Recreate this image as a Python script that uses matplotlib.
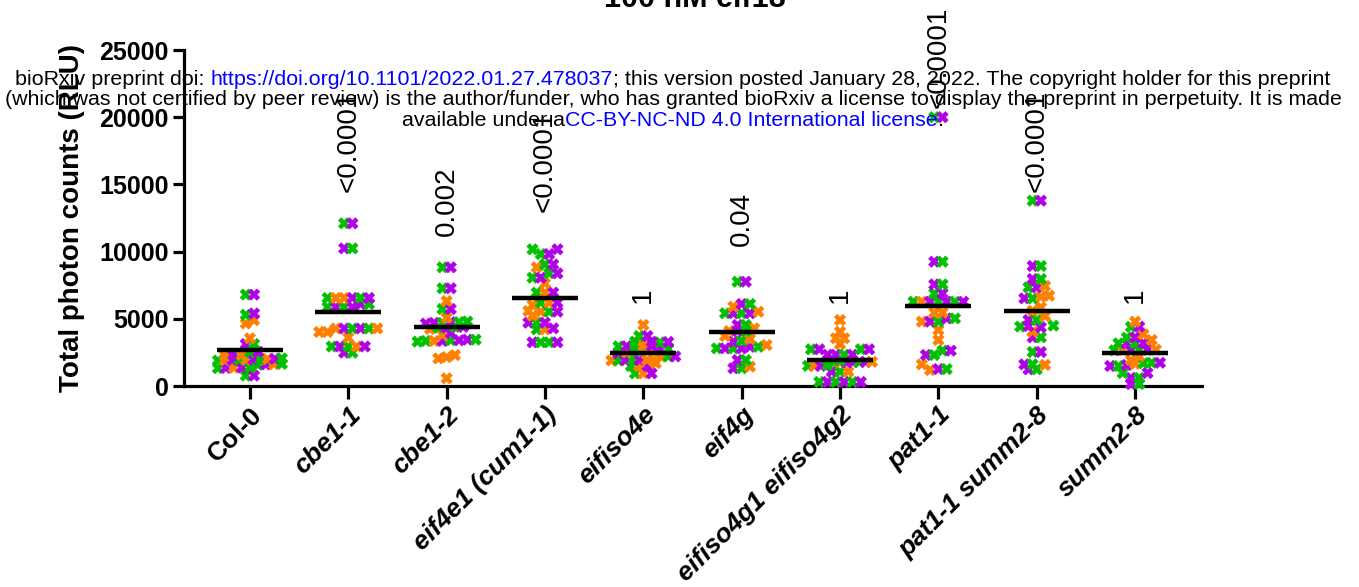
import numpy as np
import matplotlib
matplotlib.use("Agg")
import matplotlib.pyplot as plt

plt.rcParams['font.family'] = ['Liberation Sans', 'DejaVu Sans']

genotypes = ["Col-0", "cbe1-1", "cbe1-2", "eif4e1 (cum1-1)", "eifiso4e", "eif4g",
             "eifiso4g1 eifiso4g2", "pat1-1", "pat1-1 summ2-8", "summ2-8"]
italic = [False, True, True, True, True, True, True, True, True, True]

# three experiments per genotype (green / orange / purple), values in RLU
green = [
    [6800, 5300, 3120, 2530, 2050, 1990, 1950, 1900, 1650, 1580, 1380, 1330, 770],
    [12100, 10240, 6550, 6550, 6100, 5870, 5870, 4280, 4280, 2940, 2940, 2480],
    [8830, 7270, 5730, 4800, 4750, 4700, 4400, 4350, 3450, 3400, 3350, 3300],
    [10170, 9820, 9050, 8380, 8060, 6950, 6200, 5530, 4710, 4210, 3250, 3250],
    [3720, 3300, 3250, 2980, 2950, 2750, 2700, 2600, 2200, 1930, 1900, 1490, 940],
    [7760, 6100, 5410, 5410, 4540, 4090, 3370, 2920, 2800, 2800, 1930, 1320],
    [2730, 2730, 2330, 1900, 1790, 1750, 1550, 1500, 1070, 300, 300, 300],
    [20000, 9250, 7560, 6890, 6270, 6270, 6270, 5030, 4790, 2630, 2310, 1260],
    [13790, 8930, 7960, 7340, 6520, 4910, 4490, 4420, 3620, 2530, 1610, 1240],
    [4400, 3600, 3170, 3200, 2680, 2650, 1730, 1700, 1490, 970, 600, 150],
]
orange = [
    [4900, 4650, 3550, 2300, 2250, 2000, 1960, 1920, 1620, 1360],
    [6550, 6550, 4280, 4280, 4020, 4020, 3600, 2940],
    [6320, 5080, 4250, 3800, 3350, 2300, 2150, 2050, 570],
    [8830, 7640, 6950, 6200, 6030, 5580, 5530, 5230, 4210],
    [4540, 3300, 2980, 2700, 2500, 2200, 1950, 1930, 1900, 1700, 1490, 940],
    [5900, 5530, 4290, 4090, 3720, 3500, 3050, 1440],
    [4910, 4040, 3550, 3550, 3120, 1800, 1760, 1500, 1070],
    [6270, 5460, 5460, 4790, 4170, 3420, 1610, 1190],
    [7440, 6720, 6640, 5850, 5600, 5210, 4040, 1570],
    [4790, 3850, 3420, 2700, 2660, 2200, 1930, 1650],
]
purple = [
    [6800, 5400, 3120, 2550, 2300, 2020, 1980, 1940, 1600, 1370, 1350, 770],
    [12100, 10240, 6550, 6550, 6100, 5870, 5870, 4280, 4280, 2940, 2940, 2480],
    [8830, 7270, 5730, 4750, 4700, 4650, 4400, 4350, 3950, 3450, 3400, 3350],
    [10170, 9820, 9050, 8380, 8060, 6950, 6200, 5530, 4710, 4710, 4290, 3250, 3250],
    [3720, 3300, 3280, 2980, 2960, 2750, 2450, 2200, 1930, 1920, 1490, 940],
    [7760, 6100, 5410, 5410, 4540, 4090, 3300, 2920, 2800, 2800, 1930, 1320],
    [2730, 2730, 2330, 2330, 2330, 1790, 1780, 1770, 1500, 1070, 300, 300, 300],
    [20000, 9250, 7560, 6890, 6270, 6270, 6270, 5030, 4790, 2630, 2310, 1260],
    [13790, 8930, 7960, 7340, 6520, 4910, 4460, 4370, 3620, 2530, 1610, 1240],
    [4420, 3620, 3200, 3170, 2690, 2670, 1730, 1560, 1490, 970, 600, 150],
]
means = [2680, 5530, 4370, 6570, 2480, 4020, 1930, 5930, 5560, 2455]

p_labels = ["", "<0.0001", "0.002", "<0.0001", "1", "0.04", "1", "<0.0001", "<0.0001", "1"]
p_label_y = [0, 14450, 11160, 12950, 6175, 10420, 6175, 20680, 14450, 6175]

colors = {"g": "#00c000", "o": "#ff8000", "p": "#b000e8"}

W, H = 1359, 587
fig = plt.figure(figsize=(W / 100, H / 100), dpi=100)
ax = fig.add_axes([184 / W, 1 - 386 / H, (1202 - 184) / W, 336 / H])
ax.set_xlim(-0.67, 9.68)
ax.set_ylim(0, 25000)

px_x = (1202 - 184) / (9.68 + 0.67)   # pixels per category
px_y = 336 / 25000                    # pixels per RLU


def swarm_offsets(vals, d=8.3, row_h=4.5, min_dist=6.0, half_w=32):
    # row based scatter like Prism: rows centred, pushed out where they hit lower rows
    vals = np.asarray(vals, float)
    order = np.argsort(vals, kind="stable")
    rows = []
    for i in order:
        if rows and (vals[i] - vals[rows[-1][0]]) * px_y < row_h:
            rows[-1].append(i)
        else:
            rows.append([i])
    placed = []
    off = np.zeros(len(vals))
    for row in rows:
        n = len(row)
        step = d if n < 2 else min(d, 2 * half_w / (n - 1))
        base = 0.5 if n % 2 == 0 else 0.0
        slots = []
        k = 0
        while len(slots) < n + 40:
            if base == 0 and k == 0:
                slots.append(0.0)
            else:
                slots += [-(k + base), k + base]
            k += 1
        slots = [s * step for s in slots if abs(s * step) <= half_w + 0.1] or [0.0]
        ymid = np.mean([vals[i] * px_y for i in row])
        free = [x for x in slots
                if all(np.hypot(x - px, ymid - py) >= min_dist for px, py in placed)]
        chosen = free[:n]
        for x in slots:
            if len(chosen) >= n:
                break
            if x not in chosen:
                chosen.append(x)
        chosen.sort()
        for i, x in zip(row, chosen):
            off[i] = x / px_x
            placed.append((x, vals[i] * px_y))
    return off


for gi in range(len(genotypes)):
    vals = green[gi] + orange[gi] + purple[gi]
    cols = ["g"] * len(green[gi]) + ["o"] * len(orange[gi]) + ["p"] * len(purple[gi])
    # interleave so rows mix colours
    mix = sorted(range(len(vals)), key=lambda i: (vals[i], i % 3))
    vals = [vals[i] for i in mix]
    cols = [cols[i] for i in mix]
    off = swarm_offsets(vals)
    c = [colors[k] for k in cols]
    ax.scatter(gi + off, vals, marker="X", s=68, c=c, edgecolors=c,
               linewidths=0.4, zorder=3, clip_on=False)

ax.hlines(means, np.arange(10) - 0.335, np.arange(10) + 0.335, color="black",
          linewidth=3.2, zorder=4)

for gi, (lab, yv) in enumerate(zip(p_labels, p_label_y)):
    if lab:
        ax.text(gi, yv, lab, rotation=90, ha="center", va="bottom", fontsize=20,
                clip_on=False, zorder=5)

for side in ("top", "right"):
    ax.spines[side].set_visible(False)
for side in ("left", "bottom"):
    ax.spines[side].set_linewidth(2.3)

ax.set_yticks([0, 5000, 10000, 15000, 20000, 25000])
ax.set_yticklabels(["0", "5000", "10000", "15000", "20000", "25000"],
                   fontsize=18, fontweight="bold")
ax.tick_params(axis="y", length=8, width=2.3, pad=3)
ax.tick_params(axis="x", length=9, width=2.3, pad=3)
ax.set_xticks(range(10))
ax.set_xticklabels(genotypes, rotation=45, ha="right", va="top",
                   rotation_mode="anchor", fontsize=19, fontweight="bold")
for t, it in zip(ax.get_xticklabels(), italic):
    if it:
        t.set_style("italic")

ax.set_ylabel("Total photon counts (RLU)", fontsize=20, fontweight="bold")
ax.yaxis.set_label_coords(-0.097, 0.5)

fig.text(695 / W, 1 - 7 / H, "100 nM elf18", ha="center", va="baseline",
         fontsize=22, fontweight="bold")

# preprint banner over the figure
banner = [
    (85, [("bioRxiv preprint doi: ", "black"),
          ("https://doi.org/10.1101/2022.01.27.478037", "#0000ff"),
          ("; this version posted January 28, 2022. The copyright holder for this preprint", "black")]),
    (105, [("(which was not certified by peer review) is the author/funder, who has granted bioRxiv a license to display the preprint in perpetuity. It is made", "black")]),
    (126, [("available under a", "black"),
           ("CC-BY-NC-ND 4.0 International license", "#0000ff"),
           (".", "black")]),
]
renderer = fig.canvas.get_renderer()


def text_width(s, size):
    t = fig.text(0, 0, s + "|", fontsize=size)
    w1 = t.get_window_extent(renderer).width
    t.remove()
    t = fig.text(0, 0, "|", fontsize=size)
    w2 = t.get_window_extent(renderer).width
    t.remove()
    return w1 - w2


bsize = 15.4
for ybase, pieces in banner:
    full = "".join(p for p, _ in pieces)
    total = text_width(full, bsize)
    x0 = 673 - total / 2
    prefix = ""
    for p, c in pieces:
        xoff = text_width(prefix, bsize) if prefix else 0
        fig.text((x0 + xoff) / W, 1 - ybase / H, p, color=c, fontsize=bsize,
                 ha="left", va="baseline", zorder=10)
        prefix += p

fig.savefig("out.png", dpi=100)
